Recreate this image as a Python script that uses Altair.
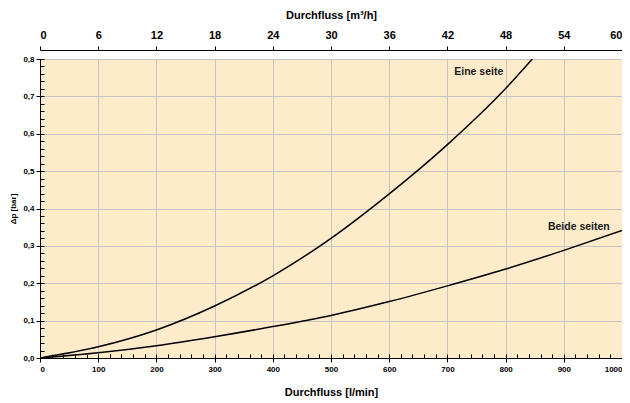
import altair as alt
import pandas as pd

# --- data ---
flow_eine = [0, 100, 200, 300, 400, 500, 600, 700, 800, 846]
dp_eine = [0.0, 0.030, 0.075, 0.139, 0.220, 0.320, 0.439, 0.571, 0.721, 0.800]

flow_beide = [0, 100, 200, 300, 400, 500, 600, 700, 800, 900, 1000]
dp_beide = [0.0, 0.014, 0.033, 0.057, 0.084, 0.114, 0.151, 0.193, 0.238, 0.288, 0.341]

label_text = ["Eine seite", "Beide seiten"]
label_x = [796, 979]
label_y = [0.766, 0.351]

x_major = list(range(0, 1001, 100))
x_minor = list(range(0, 1001, 20))
y_major = [i / 10 for i in range(0, 9)]
y_minor = [i / 50 for i in range(0, 41)]

rows = []
for f, d in zip(flow_eine, dp_eine):
    rows.append({"flow": f, "dp": d, "series": "Eine seite"})
for f, d in zip(flow_beide, dp_beide):
    rows.append({"flow": f, "dp": d, "series": "Beide seiten"})
df = pd.DataFrame(rows)
labels = pd.DataFrame({"text": label_text, "flow": label_x, "dp": label_y})

FONT = "Liberation Sans"
xscale = alt.Scale(domain=[0, 1000], nice=False)
yscale = alt.Scale(domain=[0, 0.8], nice=False)

lines = alt.Chart(df).mark_line(color="black", strokeWidth=1.5, clip=True, interpolate="monotone").encode(
    x=alt.X("flow:Q", scale=xscale, axis=alt.Axis(
        orient="bottom", values=x_major, format="d", grid=True, gridColor="#c4c4c4",
        domainColor="black", tickColor="black", tickSize=4, labelFontSize=8,
        labelFontWeight="bold", labelColor="black", labelPadding=3,
        title="Durchfluss [l/min]", titleFontSize=11, titleFontWeight="bold",
        titlePadding=13, titleColor="black", labelFont=FONT, titleFont=FONT)),
    y=alt.Y("dp:Q", scale=yscale, axis=alt.Axis(
        orient="left", values=y_major, grid=True, gridColor="#c4c4c4",
        labelExpr="replace(format(datum.value, '.1f'), '.', ',')",
        domainColor="black", tickColor="black", tickSize=4, labelFontSize=8,
        labelFontWeight="bold", labelColor="black", labelPadding=2,
        title="Δp [bar]", titleFontSize=8, titleFontWeight="bold",
        titlePadding=5, titleColor="black", labelFont=FONT, titleFont=FONT)),
    detail="series:N",
)

minor = alt.Chart(df).mark_point(opacity=0).encode(
    x=alt.X("flow:Q", scale=xscale, axis=alt.Axis(
        orient="bottom", values=x_minor, labels=False, domain=False, grid=False,
        tickColor="black", tickSize=4, offset=-4, title=None)),
    y=alt.Y("dp:Q", scale=yscale, axis=alt.Axis(
        orient="left", values=y_minor, labels=False, domain=False, grid=False,
        tickColor="black", tickSize=4, offset=-4, title=None)),
)

top = alt.Chart(df).mark_point(opacity=0).encode(
    x=alt.X("flow:Q", scale=xscale, axis=alt.Axis(
        orient="top", values=x_major, labelExpr="format(datum.value * 0.06, 'd')",
        grid=False, domainColor="black", tickColor="black", tickSize=4, offset=9,
        labelFontSize=11, labelFontWeight="bold", labelColor="black", labelPadding=6,
        title="Durchfluss [m³/h]", titleFontSize=11, titleFontWeight="bold",
        titlePadding=9, titleColor="black", labelFont=FONT, titleFont=FONT)),
    y=alt.Y("dp:Q", scale=yscale, axis=None),
)

text = alt.Chart(labels).mark_text(
    align="right", baseline="middle", fontSize=10.5, fontWeight="bold", font=FONT, color="#1a1a1a"
).encode(
    x=alt.X("flow:Q", scale=xscale, axis=None),
    y=alt.Y("dp:Q", scale=yscale, axis=None),
    text="text:N",
)

chart = alt.layer(lines, minor, top, text).resolve_axis(
    x="independent", y="independent"
).properties(
    width=582, height=299,
    autosize=alt.AutoSizeParams(type="none"),
    padding={"left": 32, "top": 51, "right": 0, "bottom": 44},
    background="white",
).configure_view(fill="#FEEBCA", stroke=None)

chart.save("out.html", embed_options={"renderer": "svg", "actions": False})
